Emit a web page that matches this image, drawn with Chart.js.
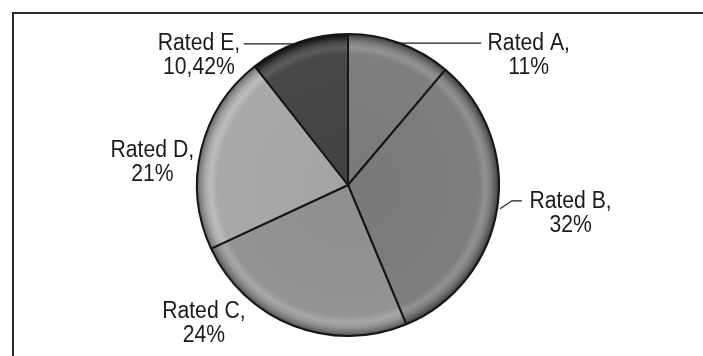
<!DOCTYPE html>
<html>
<head>
<meta charset="utf-8">
<script src="https://cdn.jsdelivr.net/npm/chart.js@4"></script>
<style>
  html, body { margin: 0; padding: 0; background: #fff; }
  #wrap { width: 703px; height: 356px; }
</style>
</head>
<body>
<div id="wrap"><canvas id="pie" width="703" height="356"></canvas></div>
<script>
// ─── Data ────────────────────────────────────────────────────────────────────

const categories = ["Rated A", "Rated B", "Rated C", "Rated D", "Rated E"];
const shares = [11, 32, 24, 21, 10.42];
const sliceColors = ["#7f7f7f", "#7e7e7e", "#949494", "#a9a9a9", "#484848"];

// label anchors, in units of the pie radius, relative to the centre
const labelAnchors = [
  [1.197, -0.934],
  [1.474, 0.112],
  [-0.954, 0.836],
  [-1.296, -0.23],
  [-0.987, -0.934],
];
// leader lines, same units
const leaders = [
  [[0.316, -0.94], [0.882, -0.94]],
  [[1.007, 0.158], [1.086, 0.105], [1.151, 0.105]],
  null,
  null,
  [[-0.691, -0.934], [-0.362, -0.934]],
];

// ─── Helpers ─────────────────────────────────────────────────────────────────

function shade(hex, amt) {
  const n = parseInt(hex.slice(1), 16);
  const c = (v) => Math.max(0, Math.min(255, v + amt));
  const r = c(n >> 16), g = c((n >> 8) & 255), b = c(n & 255);
  return `rgb(${r},${g},${b})`;
}

const fmtPct = (v) => String(v).replace(".", ",") + "%";

// rim bevel: flat body, light ridge, dark outer edge
function sliceFill(ctx) {
  const base = sliceColors[ctx.dataIndex];
  const area = ctx.chart.chartArea;
  if (!area) return base;
  const cx = (area.left + area.right) / 2;
  const cy = (area.top + area.bottom) / 2;
  const r = Math.min(area.right - area.left, area.bottom - area.top) / 2;
  const g = ctx.chart.ctx.createRadialGradient(cx, cy, 0, cx, cy, r);
  g.addColorStop(0, shade(base, -6));
  g.addColorStop(0.86, base);
  g.addColorStop(0.905, shade(base, 20));
  g.addColorStop(0.94, base);
  g.addColorStop(0.975, shade(base, -40));
  g.addColorStop(1, shade(base, -90));
  return g;
}

// ─── Plugins ─────────────────────────────────────────────────────────────────

const frame = {
  id: "frame",
  beforeDraw(chart) {
    const { ctx } = chart;
    ctx.save();
    ctx.fillStyle = "#fff";
    ctx.fillRect(0, 0, chart.width, chart.height);
    ctx.strokeStyle = "#2b2b2b";
    ctx.lineWidth = 2;
    ctx.strokeRect(13, 13, chart.width + 20, chart.height + 20);
    ctx.restore();
  },
};

const sliceLabels = {
  id: "sliceLabels",
  afterDatasetsDraw(chart) {
    const { ctx } = chart;
    const arc = chart.getDatasetMeta(0).data[0];
    const cx = arc.x, cy = arc.y, r = arc.outerRadius;
    ctx.save();
    ctx.fillStyle = "#1a1a1a";
    ctx.strokeStyle = "#1a1a1a";
    ctx.lineWidth = 1.2;
    categories.forEach((name, i) => {
      const [ax, ay] = labelAnchors[i];
      const x = cx + ax * r, y = cy + ay * r;
      // slightly condensed lettering
      ctx.save();
      ctx.translate(x, y);
      ctx.scale(0.92, 1);
      ctx.font = '23px "Liberation Sans", Arial, sans-serif';
      ctx.textAlign = "center";
      ctx.textBaseline = "middle";
      ctx.fillText(name + ",", 0, 0);
      ctx.fillText(fmtPct(shares[i]), 0, 24);
      ctx.restore();
      const pts = leaders[i];
      if (pts) {
        ctx.beginPath();
        pts.forEach(([px, py], k) => {
          const X = cx + px * r, Y = cy + py * r;
          k ? ctx.lineTo(X, Y) : ctx.moveTo(X, Y);
        });
        ctx.stroke();
      }
    });
    ctx.restore();
  },
};

// ─── Chart ───────────────────────────────────────────────────────────────────

new Chart(document.getElementById("pie").getContext("2d"), {
  type: "pie",
  data: {
    labels: categories,
    datasets: [
      {
        data: shares,
        backgroundColor: sliceFill,
        borderColor: "#161616",
        borderWidth: 2,
        hoverOffset: 0,
      },
    ],
  },
  options: {
    responsive: false,
    animation: false,
    layout: { padding: { left: 196, right: 203, top: 33, bottom: 19 } },
    plugins: {
      legend: { display: false },
      tooltip: { enabled: false },
    },
  },
  plugins: [frame, sliceLabels],
});
</script>
</body>
</html>
